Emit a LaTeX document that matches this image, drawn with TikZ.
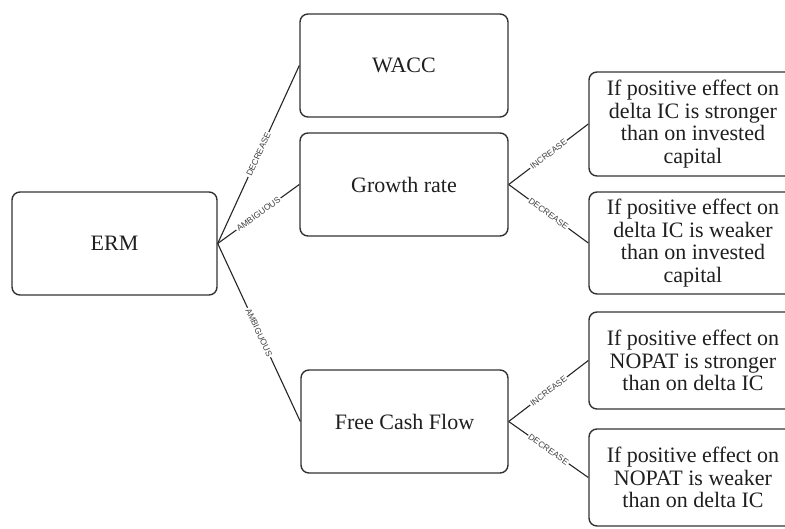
\documentclass[tikz,border=0pt]{standalone}
\usepackage{fontspec}
\setmainfont{Liberation Serif}
\setsansfont{Liberation Sans}
\begin{document}
\begin{tikzpicture}[x=1pt,y=-1pt,
  box/.style={draw=black!80, line width=1.4pt, rounded corners=8pt, fill=white,
    align=center, font=\fontsize{22}{22.8}\selectfont, text=black!88, inner sep=2pt},
  conn/.style={draw=black!85, line width=1.1pt},
  lbl/.style={sloped, fill=white, inner sep=1.2pt, text=black!75,
    font=\sffamily\fontsize{8.5}{9}\selectfont}]
\useasboundingbox (0,0) rectangle (785,528);
\fill[white] (0,0) rectangle (785,528);
\node[box, minimum width=205pt, minimum height=103pt] (erm) at (114.5,243.5) {ERM};
\node[box, minimum width=208pt, minimum height=103pt] (wacc) at (404,65.5) {WACC};
\node[box, minimum width=208pt, minimum height=103pt] (gr) at (404,184.5) {Growth rate};
\node[box, minimum width=207pt, minimum height=103pt] (fcf) at (404.5,421.5) {Free Cash Flow};
\node[box, minimum width=208pt, minimum height=104pt] (b1) at (693,124)
  {If positive effect on\\delta IC is stronger\\than on invested\\capital};
\node[box, minimum width=208pt, minimum height=102pt] (b2) at (693,243)
  {If positive effect on\\delta IC is weaker\\than on invested\\capital};
\node[box, minimum width=208pt, minimum height=97pt] (b3) at (693,360.5)
  {If positive effect on\\NOPAT is stronger\\than on delta IC};
\node[box, minimum width=208pt, minimum height=97pt] (b4) at (693,477.5)
  {If positive effect on\\NOPAT is weaker\\than on delta IC};
\draw[conn] (erm.east) -- node[lbl] {DECREASE} (wacc.west);
\draw[conn] (erm.east) -- node[lbl] {AMBIGUOUS} (gr.west);
\draw[conn] (erm.east) -- node[lbl] {AMBIGUOUS} (fcf.west);
\draw[conn] (gr.east) -- node[lbl] {INCREASE} (b1.west);
\draw[conn] (gr.east) -- node[lbl] {DECREASE} (b2.west);
\draw[conn] (fcf.east) -- node[lbl] {INCREASE} (b3.west);
\draw[conn] (fcf.east) -- node[lbl] {DECREASE} (b4.west);
\end{tikzpicture}
\end{document}
